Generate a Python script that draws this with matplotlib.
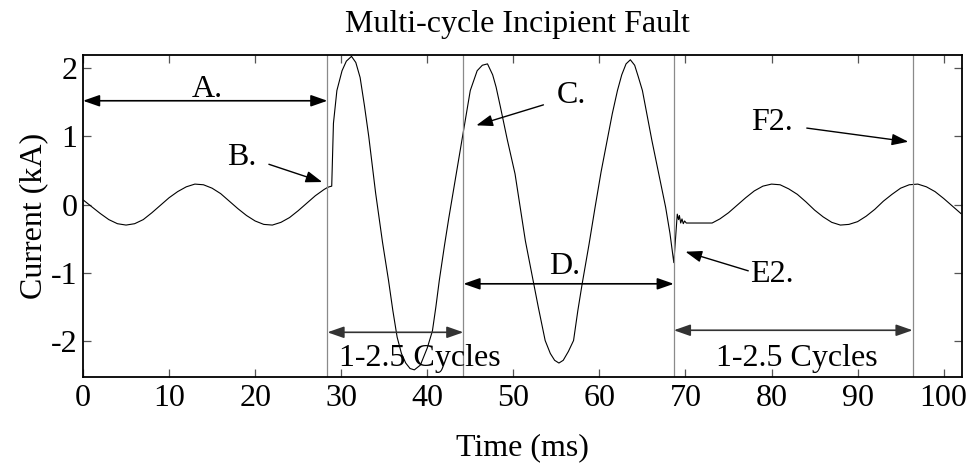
import matplotlib
matplotlib.use('Agg')

import matplotlib.pyplot as plt
import numpy as np

plt.rcParams['font.family'] = ['Liberation Serif', 'DejaVu Serif']
plt.rcParams['axes.unicode_minus'] = False
plt.rcParams['font.size'] = 23

# waveform (time in ms, current in kA)
pre_t = [0, 1, 2, 3, 4, 5, 6, 7, 8, 9, 10, 11, 12, 13, 14, 15, 16, 17, 18, 19,
         20, 21, 22, 23, 24, 25, 26, 27, 28, 28.4]
pre_i = [0.07, -0.03, -0.13, -0.22, -0.28, -0.30, -0.28, -0.22, -0.12, -0.01,
         0.10, 0.19, 0.26, 0.30, 0.29, 0.24, 0.16, 0.05, -0.06, -0.16,
         -0.24, -0.29, -0.30, -0.26, -0.19, -0.09, 0.02, 0.13, 0.22, 0.25]

fault_t = [28.6, 28.9, 29.1, 29.5, 30.1, 30.6, 31.2, 31.7, 32.2, 32.7, 33.2,
           33.6, 34.0, 34.8, 35.5, 36.0, 36.5, 37.0, 37.5, 38.0, 38.5, 39.2,
           40.0, 40.6, 41.0, 41.4, 42.0, 42.5, 43.1, 43.5, 44.2, 45.0, 45.8,
           46.4, 47.0, 47.6, 48.0, 48.5, 49.3, 50.2, 51.4, 52.2, 52.9, 53.7,
           54.3, 54.8, 55.3, 55.8, 56.4, 57.0, 57.5, 58.0, 58.8, 59.5, 60.2,
           60.9, 61.5, 62.1, 62.6, 63.1, 63.6, 64.1, 64.5, 65.0, 65.5, 66.1,
           66.9, 67.7, 68.2, 68.65]
fault_i = [0.26, 0.27, 1.19, 1.67, 1.96, 2.10, 2.17, 2.08, 1.86, 1.45, 1.00,
           0.58, 0.17, -0.55, -1.11, -1.55, -1.94, -2.18, -2.32, -2.40, -2.42, -2.35,
           -2.10, -1.85, -1.50, -1.11, -0.60, -0.20, 0.25, 0.55, 1.08, 1.67, 1.96,
           2.04, 2.06, 1.90, 1.72, 1.43, 0.95, 0.45, -0.53, -1.05, -1.50, -1.99,
           -2.18, -2.28, -2.32, -2.28, -2.15, -1.99, -1.55, -1.16, -0.58, -0.04, 0.48,
           0.94, 1.33, 1.67, 1.90, 2.06, 2.12, 2.04, 1.88, 1.67, 1.34, 0.94,
           0.45, -0.04, -0.42, -0.85]

post_t = [69.05, 69.2, 69.3, 69.45, 69.6, 69.75, 69.9, 70.1, 70.4, 73.1,
          74, 75, 76, 77, 78, 79, 80, 81, 82, 83, 84, 85, 86, 87, 88, 89,
          90, 91, 92, 93, 94, 95, 96, 97, 98, 99, 100, 101, 102]
post_i = [-0.14, -0.22, -0.16, -0.27, -0.21, -0.28, -0.24, -0.27, -0.27, -0.27,
          -0.21, -0.12, -0.01, 0.10, 0.20, 0.27, 0.30, 0.29, 0.23, 0.15, 0.04,
          -0.08, -0.18, -0.26, -0.30, -0.29, -0.25, -0.17, -0.07, 0.05, 0.15,
          0.24, 0.29, 0.30, 0.26, 0.19, 0.09, -0.02, -0.13]

# event boundaries (ms)
markers = [28.4, 44.2, 68.65, 96.4]

t = np.array(pre_t + fault_t + post_t)
i = np.array(pre_i + fault_i + post_i)

fig = plt.figure(figsize=(9.79, 4.68), dpi=100)
ax = fig.add_axes([83/979, 1-376.7/468, (961.7-83)/979, (376.7-55)/468])

ax.plot(t, i, color='black', lw=0.8)
for m in markers:
    ax.axvline(m, color='#8a8a8a', lw=0.9)

ax.set_xlim(0, 102.1)
ax.set_ylim(-2.52, 2.19)
ax.set_xticks(range(0, 101, 10))
ax.set_yticks([-2, -1, 0, 1, 2])
ax.tick_params(direction='in', length=6, width=0.9, top=True, right=True,
               labelsize=23, color='#555555')
ax.tick_params(axis='x', pad=5)
ax.tick_params(axis='y', pad=4)
for s in ax.spines.values():
    s.set_linewidth(1.3)

ax.set_xlabel('Time (ms)', fontsize=23)
ax.set_ylabel('Current (kA)', fontsize=23)
ax.xaxis.set_label_coords(0.5, -0.175)
ax.yaxis.set_label_coords(-0.04, 0.5)
fig.text(517.5/979, 1-32/468, 'Multi-cycle Incipient Fault', ha='center',
         va='baseline', fontsize=23)


def span(x0, x1, y, color='black'):
    ax.annotate('', xy=(x1, y), xytext=(x0, y),
                arrowprops=dict(arrowstyle='<|-|>,head_length=1.0,head_width=0.35',
                                mutation_scale=10, color=color, lw=1.2,
                                shrinkA=0, shrinkB=0))


def pointer(x0, y0, x1, y1):
    ax.annotate('', xy=(x1, y1), xytext=(x0, y0),
                arrowprops=dict(arrowstyle='-|>,head_length=1.0,head_width=0.35',
                                mutation_scale=10, color='black', lw=1.0,
                                shrinkA=0, shrinkB=0))


span(0, markers[0], 1.52)
span(markers[0], markers[1], -1.87, color='#333333')
span(markers[1], markers[2], -1.16)
span(markers[2], markers[3], -1.84, color='#333333')

pointer(21.6, 0.59, 27.8, 0.33)
pointer(53.5, 1.46, 45.7, 1.16)
pointer(77.3, -0.97, 70.0, -0.69)
pointer(84.1, 1.12, 95.9, 0.92)

ax.text(14.4, 1.57, 'A.', ha='center', va='baseline')
ax.text(18.4, 0.575, 'B.', ha='center', va='baseline')
ax.text(56.8, 1.48, 'C.', ha='center', va='baseline')
ax.text(56.0, -1.01, 'D.', ha='center', va='baseline')
ax.text(80.0, -1.13, 'E2.', ha='center', va='baseline')
ax.text(80.0, 1.09, 'F2.', ha='center', va='baseline')
ax.text(29.7, -2.36, '1-2.5 Cycles', ha='left', va='baseline')
ax.text(73.5, -2.36, '1-2.5 Cycles', ha='left', va='baseline')

fig.savefig('out.png', dpi=100)
